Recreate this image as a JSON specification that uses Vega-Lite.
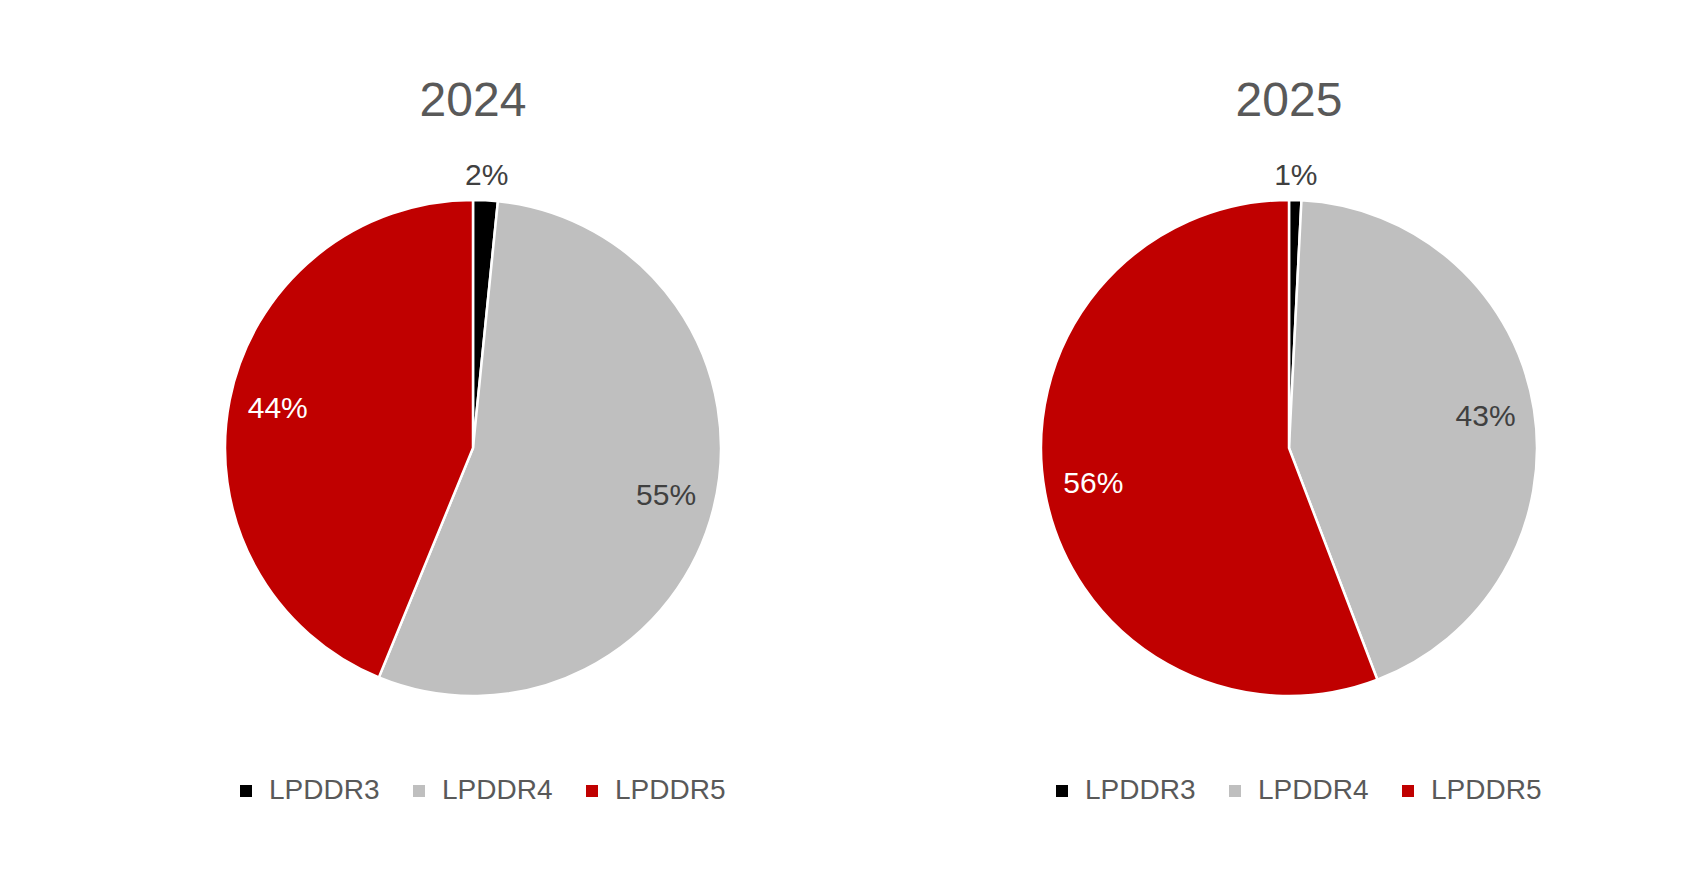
{
  "$schema": "https://vega.github.io/schema/vega-lite/v6.json",
  "background": "white",
  "padding": {"left": 123, "top": 78, "right": 0, "bottom": 0},
  "data": {
    "values": [
      {"year": "2024", "type": "LPDDR3", "rank": 1, "share": 0.016},
      {"year": "2024", "type": "LPDDR4", "rank": 2, "share": 0.546},
      {"year": "2024", "type": "LPDDR5", "rank": 3, "share": 0.438},
      {"year": "2025", "type": "LPDDR3", "rank": 1, "share": 0.008},
      {"year": "2025", "type": "LPDDR4", "rank": 2, "share": 0.434},
      {"year": "2025", "type": "LPDDR5", "rank": 3, "share": 0.558}
    ]
  },
  "config": {
    "view": {"stroke": null},
    "font": "Liberation Sans",
    "title": {"fontSize": 48, "fontWeight": "normal", "color": "#595959", "offset": 24},
    "legend": {
      "orient": "none",
      "legendX": 109,
      "legendY": 627,
      "direction": "horizontal",
      "title": null,
      "labelFontSize": 28,
      "labelColor": "#595959",
      "symbolType": "square",
      "symbolSize": 144,
      "symbolStrokeWidth": 0,
      "labelOffset": 9,
      "columnPadding": 25
    }
  },
  "spacing": 116,
  "hconcat": [
    {
      "title": "2024",
      "width": 700,
      "height": 596,
      "transform": [{"filter": "datum.year === '2024'"}],
      "encoding": {
        "theta": {"field": "share", "type": "quantitative", "stack": true},
        "order": {"field": "rank", "type": "quantitative"}
      },
      "layer": [
        {
          "mark": {"type": "arc", "outerRadius": 248, "stroke": "white", "strokeWidth": 2.5},
          "encoding": {
            "color": {
              "field": "type",
              "type": "nominal",
              "scale": {"domain": ["LPDDR3", "LPDDR4", "LPDDR5"], "range": ["#000000", "#BFBFBF", "#C00000"]}
            }
          }
        },
        {
          "mark": {"type": "text", "radius": 199, "fontSize": 30},
          "encoding": {
            "detail": {"field": "type", "type": "nominal"},
            "text": {"condition": {"test": "datum.share >= 0.05", "field": "share", "format": ".0%"}, "value": ""},
            "color": {"condition": {"test": "datum.type === 'LPDDR5'", "value": "#FFFFFF"}, "value": "#404040"}
          }
        },
        {
          "mark": {"type": "text", "radius": 272, "fontSize": 30},
          "encoding": {
            "detail": {"field": "type", "type": "nominal"},
            "text": {"condition": {"test": "datum.share < 0.05", "field": "share", "format": ".0%"}, "value": ""},
            "color": {"value": "#404040"}
          }
        }
      ]
    },
    {
      "title": "2025",
      "width": 700,
      "height": 596,
      "transform": [{"filter": "datum.year === '2025'"}],
      "encoding": {
        "theta": {"field": "share", "type": "quantitative", "stack": true},
        "order": {"field": "rank", "type": "quantitative"}
      },
      "layer": [
        {
          "mark": {"type": "arc", "outerRadius": 248, "stroke": "white", "strokeWidth": 2.5},
          "encoding": {
            "color": {
              "field": "type",
              "type": "nominal",
              "scale": {"domain": ["LPDDR3", "LPDDR4", "LPDDR5"], "range": ["#000000", "#BFBFBF", "#C00000"]}
            }
          }
        },
        {
          "mark": {"type": "text", "radius": 199, "fontSize": 30},
          "encoding": {
            "detail": {"field": "type", "type": "nominal"},
            "text": {"condition": {"test": "datum.share >= 0.05", "field": "share", "format": ".0%"}, "value": ""},
            "color": {"condition": {"test": "datum.type === 'LPDDR5'", "value": "#FFFFFF"}, "value": "#404040"}
          }
        },
        {
          "mark": {"type": "text", "radius": 272, "fontSize": 30},
          "encoding": {
            "detail": {"field": "type", "type": "nominal"},
            "text": {"condition": {"test": "datum.share < 0.05", "field": "share", "format": ".0%"}, "value": ""},
            "color": {"value": "#404040"}
          }
        }
      ]
    }
  ],
  "resolve": {"scale": {"color": "independent"}, "legend": {"color": "independent"}}
}
